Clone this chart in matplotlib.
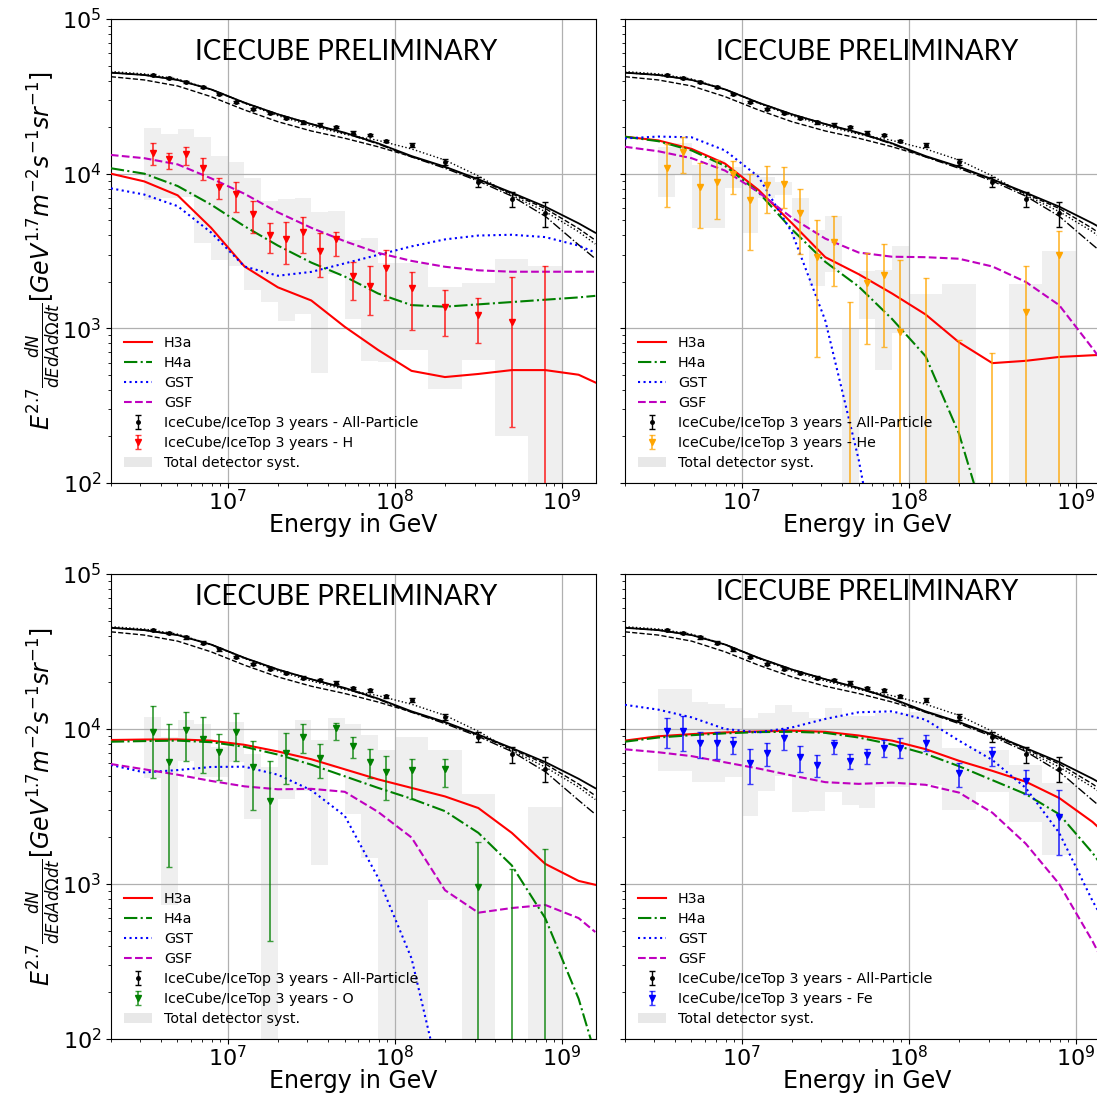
import numpy as np
import matplotlib
matplotlib.use('Agg')
import matplotlib.pyplot as plt
from matplotlib.patches import Patch

# ---------------- data (log10 of energy in GeV / log10 of flux) ----------------
logE_model = [6.3, 6.5, 6.7, 6.9, 7.1, 7.3, 7.5, 7.7, 7.9, 8.1, 8.3, 8.5, 8.7, 8.9, 9.1, 9.2]

# all-particle model totals
allp_H3a = [4.653, 4.638, 4.606, 4.545, 4.459, 4.384, 4.321, 4.265, 4.196, 4.114, 4.045, 3.964, 3.877, 3.787, 3.679, 3.618]
allp_H4a = [4.653, 4.638, 4.606, 4.545, 4.459, 4.384, 4.321, 4.262, 4.192, 4.108, 4.035, 3.952, 3.855, 3.725, 3.540, 3.450]
allp_GST = [4.660, 4.645, 4.612, 4.545, 4.455, 4.375, 4.310, 4.255, 4.215, 4.160, 4.088, 3.985, 3.860, 3.755, 3.625, 3.545]
allp_GSF = [4.627, 4.606, 4.567, 4.498, 4.412, 4.336, 4.276, 4.229, 4.174, 4.110, 4.042, 3.960, 3.870, 3.775, 3.645, 3.570]

# measurement bins
logE_center = [6.55, 6.65, 6.75, 6.85, 6.95, 7.05, 7.15, 7.25, 7.35, 7.45, 7.55, 7.65, 7.75, 7.85, 7.95, 8.1, 8.3, 8.5, 8.7, 8.9]
logE_lowedge = [6.5, 6.6, 6.7, 6.8, 6.9, 7.0, 7.1, 7.2, 7.3, 7.4, 7.5, 7.6, 7.7, 7.8, 7.9, 8.0, 8.2, 8.4, 8.6, 8.8]
logE_highedge = [6.6, 6.7, 6.8, 6.9, 7.0, 7.1, 7.2, 7.3, 7.4, 7.5, 7.6, 7.7, 7.8, 7.9, 8.0, 8.2, 8.4, 8.6, 8.8, 9.0]

# all-particle data (linear flux) and errors
allp_val = [43450, 41590, 38990, 36140, 32580, 29170, 26300, 24550, 22910, 21480, 20750, 19950, 18410, 17780, 16260, 15310, 11890, 8870, 6850, 5550]
allp_err = [700, 700, 650, 600, 550, 500, 450, 420, 400, 380, 370, 360, 340, 330, 320, 460, 540, 670, 800, 1000]

# proton (H)
H_H3a = [4.00, 3.95, 3.86, 3.65, 3.40, 3.265, 3.18, 3.01, 2.86, 2.725, 2.685, 2.705, 2.73, 2.73, 2.70, 2.65]
H_H4a = [4.035, 4.00, 3.92, 3.80, 3.66, 3.535, 3.425, 3.335, 3.225, 3.15, 3.14, 3.155, 3.17, 3.185, 3.20, 3.21]
H_GST = [3.905, 3.865, 3.79, 3.62, 3.40, 3.34, 3.365, 3.42, 3.475, 3.53, 3.575, 3.60, 3.605, 3.59, 3.535, 3.49]
H_GSF = [4.121, 4.10, 4.06, 3.97, 3.87, 3.75, 3.65, 3.563, 3.488, 3.436, 3.398, 3.375, 3.366, 3.366, 3.366, 3.366]
H_val = [4.136, 4.093, 4.127, 4.039, 3.916, 3.869, 3.737, 3.604, 3.580, 3.625, 3.500, 3.578, 3.340, 3.276, 3.392, 3.259, 3.140, 3.086, 3.043, 0.0]
H_lo = [4.056, 4.028, 4.054, 3.959, 3.836, 3.752, 3.614, 3.485, 3.416, 3.489, 3.334, 3.470, 3.180, 3.086, 3.183, 2.990, 2.950, 2.907, 2.360, 0.0]
H_hi = [4.200, 4.136, 4.175, 4.100, 3.970, 3.948, 3.823, 3.679, 3.690, 3.718, 3.618, 3.620, 3.431, 3.405, 3.507, 3.366, 3.248, 3.196, 3.330, 3.400]
H_sys_hi = [4.297, 4.254, 4.290, 4.239, 4.114, 4.077, 3.970, 3.823, 3.834, 3.845, 3.754, 3.761, 3.571, 3.582, 3.420, 3.420, 3.269, 3.290, 3.446, 3.400]
H_sys_lo = [3.830, 3.840, 3.850, 3.550, 3.442, 3.400, 3.248, 3.172, 3.050, 3.093, 2.709, 3.350, 3.061, 2.790, 2.780, 2.860, 2.608, 2.795, 2.304, 0.0]

# helium (He)
He_H3a = [4.239, 4.215, 4.16, 4.065, 3.895, 3.68, 3.46, 3.35, 3.225, 3.09, 2.91, 2.775, 2.79, 2.815, 2.826, 2.83]
He_H4a = [4.239, 4.21, 4.15, 4.05, 3.88, 3.64, 3.43, 3.27, 3.06, 2.82, 2.32, 1.6, 0.5, -0.5, -1.5, -2.0]
He_GST = [4.228, 4.24, 4.235, 4.15, 3.98, 3.62, 3.05, 2.15, 1.0, 0.0, -1.0, -2.0, -3.0, -4.0, -5.0, -5.5]
He_GSF = [4.174, 4.145, 4.10, 4.02, 3.88, 3.715, 3.58, 3.49, 3.463, 3.46, 3.45, 3.40, 3.30, 3.15, 2.87, 2.72]
He_val = [4.035, 4.142, 3.916, 3.948, 3.998, 3.830, 3.927, 3.933, 3.748, 3.463, 3.560, 0.0, 3.295, 3.345, 2.974, 0.0, 0.0, 0.0, 3.108, 3.474]
He_lo = [3.783, 4.002, 3.651, 3.707, 3.869, 3.507, 3.744, 3.776, 3.479, 2.817, 3.276, 0.0, 2.897, 2.878, 0.0, 0.0, 0.0, 0.0, 0.0, 0.0]
He_hi = [4.192, 4.239, 4.067, 4.088, 4.084, 3.998, 4.050, 4.041, 3.903, 3.700, 3.728, 3.172, 3.489, 3.545, 3.442, 3.327, 2.925, 2.840, 3.405, 3.631]
He_sys_hi = [4.174, 4.200, 4.056, 4.088, 4.045, 4.002, 3.980, 3.948, 3.841, 3.636, 3.728, 3.000, 3.370, 3.377, 3.532, 3.222, 3.287, np.nan, 3.287, 3.500]
He_sys_lo = [3.851, 4.000, 3.647, 3.651, 3.905, 3.614, 3.840, 3.862, 3.571, 3.274, 3.366, 0.0, 3.060, 2.730, 2.970, 0.0, 0.0, np.nan, 0.0, 0.0]

# oxygen (O)
O_H3a = [3.929, 3.932, 3.933, 3.925, 3.898, 3.855, 3.805, 3.74, 3.675, 3.62, 3.565, 3.49, 3.33, 3.13, 3.02, 2.995]
O_H4a = [3.918, 3.922, 3.925, 3.915, 3.885, 3.835, 3.77, 3.695, 3.62, 3.55, 3.47, 3.33, 3.12, 2.78, 2.26, 1.9]
O_GST = [3.768, 3.72, 3.735, 3.755, 3.757, 3.705, 3.605, 3.44, 3.04, 2.52, 1.6, 0.5, -0.5, -1.5, -2.5, -3.0]
O_GSF = [3.774, 3.74, 3.705, 3.665, 3.63, 3.611, 3.614, 3.595, 3.465, 3.30, 2.96, 2.815, 2.845, 2.865, 2.78, 2.69]
O_val = [3.983, 3.785, 3.994, 3.933, 3.854, 3.983, 3.757, 3.537, 3.847, 3.950, 3.811, 4.008, 3.890, 3.789, 3.725, 3.735, 3.740, 2.979, 0.0, 0.0]
O_lo = [3.686, 3.108, 3.796, 3.714, 3.671, 3.794, 3.477, 2.632, 3.643, 3.843, 3.686, 3.929, 3.811, 3.686, 3.542, 3.546, 3.628, 0.0, 0.0, 0.0]
O_hi = [4.148, 4.030, 4.112, 4.079, 3.966, 4.105, 3.925, 3.796, 3.976, 4.032, 3.901, 4.037, 3.950, 3.869, 3.826, 3.806, 3.804, 3.273, 3.095, 3.226]
O_sys_hi = [4.075, 3.950, 4.058, 4.032, 3.886, 4.047, 3.839, 3.757, 4.000, 4.060, 3.930, 4.070, 4.030, 3.960, 3.865, 3.946, 3.865, 3.580, np.nan, 3.500]
O_sys_lo = [3.682, 2.865, 3.796, 3.692, 3.692, 3.789, 3.417, 0.0, 3.550, 3.600, 3.123, 3.750, 3.450, 3.168, 0.0, 0.0, 2.900, 0.0, np.nan, 0.0]

# iron (Fe)
Fe_H3a = [3.925, 3.953, 3.967, 3.978, 3.984, 3.989, 3.982, 3.958, 3.925, 3.87, 3.795, 3.73, 3.66, 3.555, 3.40, 3.30]
Fe_H4a = [3.918, 3.945, 3.96, 3.972, 3.98, 3.982, 3.975, 3.945, 3.90, 3.84, 3.76, 3.67, 3.58, 3.45, 3.20, 3.05]
Fe_GST = [4.156, 4.125, 4.075, 4.00, 3.978, 4.01, 4.065, 4.108, 4.114, 4.06, 3.925, 3.80, 3.62, 3.33, 2.89, 2.70]
Fe_GSF = [3.869, 3.85, 3.825, 3.785, 3.745, 3.70, 3.657, 3.646, 3.654, 3.64, 3.59, 3.46, 3.26, 3.00, 2.63, 2.42]
Fe_val = [3.989, 3.987, 3.908, 3.908, 3.901, 3.779, 3.847, 3.940, 3.822, 3.768, 3.895, 3.794, 3.832, 3.880, 3.875, 3.912, 3.714, 3.838, 3.665, 3.433]
Fe_lo = [3.880, 3.860, 3.811, 3.808, 3.837, 3.643, 3.762, 3.862, 3.725, 3.692, 3.837, 3.740, 3.772, 3.818, 3.810, 3.860, 3.628, 3.762, 3.578, 3.187]
Fe_hi = [4.073, 4.083, 3.983, 3.980, 3.951, 3.870, 3.908, 4.002, 3.890, 3.834, 3.931, 3.839, 3.869, 3.932, 3.940, 3.960, 3.779, 3.886, 3.735, 3.608]
Fe_sys_hi = [4.256, 4.256, 4.172, 4.159, 4.133, 4.069, 4.101, 4.152, 4.110, 4.069, 4.137, 4.083, 4.083, 4.101, 4.101, 4.110, 3.875, 3.862, 3.766, 3.654]
Fe_sys_lo = [3.729, 3.729, 3.656, 3.656, 3.692, 3.441, 3.603, 3.700, 3.463, 3.474, 3.594, 3.512, 3.491, 3.629, 3.629, 3.639, 3.475, 3.594, 3.400, 3.187]

panels = [
    ('H', 'red', H_H3a, H_H4a, H_GST, H_GSF, H_val, H_lo, H_hi, H_sys_lo, H_sys_hi),
    ('He', 'orange', He_H3a, He_H4a, He_GST, He_GSF, He_val, He_lo, He_hi, He_sys_lo, He_sys_hi),
    ('O', 'green', O_H3a, O_H4a, O_GST, O_GSF, O_val, O_lo, O_hi, O_sys_lo, O_sys_hi),
    ('Fe', 'blue', Fe_H3a, Fe_H4a, Fe_GST, Fe_GSF, Fe_val, Fe_lo, Fe_hi, Fe_sys_lo, Fe_sys_hi),
]

W, H = 1097, 1094
positions = [
    [111 / W, (H - 483) / H, 485 / W, 464 / H],
    [625 / W, (H - 483) / H, 485 / W, 464 / H],
    [111 / W, (H - 1039) / H, 485 / W, 465 / H],
    [625 / W, (H - 1039) / H, 485 / W, 465 / H],
]
title_pos = [(0.485, 0.929), (0.50, 0.929), (0.485, 0.951), (0.50, 0.962)]

p10 = lambda a: np.power(10.0, np.asarray(a, dtype=float))

fig = plt.figure(figsize=(W / 100, H / 100), dpi=100)

Em = p10(logE_model)
Ec = p10(logE_center)
El = p10(logE_lowedge)
Eh = p10(logE_highedge)

for i, (name, col, c3a, c4a, cgst, cgsf, val, lo, hi, slo, shi) in enumerate(panels):
    ax = fig.add_axes(positions[i])
    ax.set_xscale('log')
    ax.set_yscale('log')

    # systematic boxes
    sl = p10(slo)
    sh = p10(shi)
    ax.bar(El, sh - sl, width=Eh - El, bottom=sl, align='edge',
           color='#efefef', linewidth=0, zorder=1)

    # all-particle model totals
    ax.plot(Em, p10(allp_H3a), color='k', ls='-', lw=1.3, zorder=3)
    ax.plot(Em, p10(allp_H4a), color='k', ls='-.', lw=1.0, zorder=3)
    ax.plot(Em, p10(allp_GST), color='k', ls=':', lw=1.0, zorder=3)
    ax.plot(Em, p10(allp_GSF), color='k', ls='--', lw=1.0, zorder=3)

    # composition model lines
    l1, = ax.plot(Em, p10(c3a), color='red', ls='-', lw=1.5, zorder=3, label='H3a')
    l2, = ax.plot(Em, p10(c4a), color='green', ls='-.', lw=1.5, zorder=3, label='H4a')
    l3, = ax.plot(Em, p10(cgst), color='blue', ls=':', lw=1.5, zorder=3, label='GST')
    l4, = ax.plot(Em, p10(cgsf), color='m', ls='--', lw=1.5, zorder=3, label='GSF')

    # all-particle data
    eb1 = ax.errorbar(Ec, allp_val, yerr=allp_err, fmt='o', color='k', ms=2.5,
                      capsize=2, elinewidth=1.0, zorder=5)

    # composition data
    v = p10(val)
    yl = p10(lo)
    yh = p10(hi)
    eb2 = ax.errorbar(Ec, v, yerr=[v - yl, yh - v], fmt='v', color=col, ms=5,
                      ecolor=matplotlib.colors.to_rgba(col, 0.75), capsize=2.5,
                      elinewidth=1.3, zorder=4)

    ax.set_xlim(2e6, 1.6e9)
    ax.set_ylim(1e2, 1e5)
    ax.grid(True, which='major', color='#b0b0b0', lw=0.9)
    ax.tick_params(axis='both', which='major', labelsize=16)
    ax.tick_params(axis='x', which='major', pad=1)
    if i in (1, 3):
        ax.tick_params(axis='y', labelleft=False)
    else:
        ax.set_ylabel(r'$E^{2.7}\frac{dN}{dEdAd\Omega dt}[GeV^{1.7}m^{-2}s^{-1}sr^{-1}]$',
                      fontsize=17, labelpad=-1)
    ax.set_xlabel('Energy in GeV', fontsize=17, labelpad=-1)

    ax.text(title_pos[i][0], title_pos[i][1], 'ICECUBE PRELIMINARY', transform=ax.transAxes,
            ha='center', va='center', fontsize=20, family='Lato')

    syst = Patch(facecolor='#e8e8e8', edgecolor='none')
    ax.legend([l1, l2, l3, l4, eb1, eb2, syst],
              ['H3a', 'H4a', 'GST', 'GSF',
               'IceCube/IceTop 3 years - All-Particle',
               'IceCube/IceTop 3 years - ' + name,
               'Total detector syst.'],
              loc='lower left', frameon=False, fontsize=10.3, labelspacing=0.42)

fig.savefig('out.png', dpi=100)
